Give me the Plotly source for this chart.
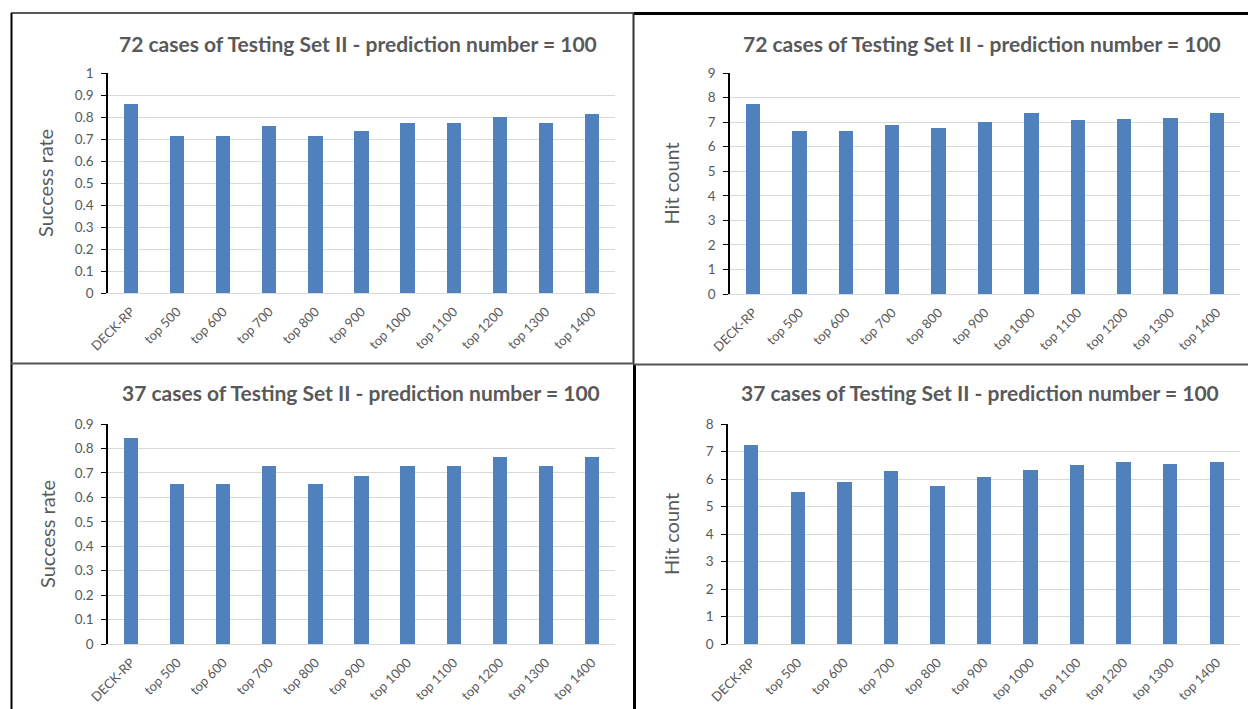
import plotly.graph_objects as go

W, H = 1248, 709

categories = ["DECK-RP", "top 500", "top 600", "top 700", "top 800", "top 900",
              "top 1000", "top 1100", "top 1200", "top 1300", "top 1400"]

rate_72 = [0.858, 0.714, 0.714, 0.758, 0.714, 0.736, 0.775, 0.775, 0.798, 0.775, 0.813]
hits_72 = [7.75, 6.62, 6.62, 6.87, 6.77, 7.02, 7.36, 7.07, 7.13, 7.17, 7.36]
rate_37 = [0.843, 0.653, 0.653, 0.727, 0.653, 0.688, 0.727, 0.727, 0.767, 0.727, 0.767]
hits_37 = [7.25, 5.52, 5.89, 6.28, 5.75, 6.07, 6.33, 6.50, 6.63, 6.54, 6.63]

title_72 = "72 cases of Testing Set II - prediction number = 100"
title_37 = "37 cases of Testing Set II - prediction number = 100"

BAR = "#4F81BD"
GRID = "#D9D9D9"
TXT = "#595959"
FONT = "Lato"


def px(x):
    return x / W


def py(y):
    return 1 - y / H


panels = [
    # values, y max, dtick, x extent (px), y extent (px top, bottom), y title, title, title centre, y-title x
    (rate_72, 1.0, 0.1, (108, 615), (73, 293), "Success rate", title_72, (358, 43), 45),
    (hits_72, 9, 1, (730, 1240), (73, 294), "Hit count", title_72, (982, 43), 671),
    (rate_37, 0.9, 0.1, (108, 615), (424, 644), "Success rate", title_37, (361, 392), 47),
    (hits_37, 8, 1, (728, 1240), (424, 644), "Hit count", title_37, (980, 392), 671),
]

fig = go.Figure()
layout = {}
annotations = []

for i, (vals, ymax, dt, xd, yd, ytitle, title, tpos, ytx) in enumerate(panels, start=1):
    sfx = "" if i == 1 else str(i)
    fig.add_trace(go.Bar(
        x=categories, y=vals, width=0.31,
        marker=dict(color=BAR, line=dict(width=0)),
        xaxis="x" + sfx, yaxis="y" + sfx, showlegend=False,
    ))
    layout["xaxis" + sfx] = dict(
        domain=[px(xd[0]), px(xd[1])], anchor="y" + sfx, automargin=False,
        tickangle=-45, tickfont=dict(family=FONT, size=13, color=TXT),
        ticklabelstandoff=5,
        showgrid=False, showline=True, linecolor=GRID, linewidth=1,
        ticks="", fixedrange=True,
    )
    layout["yaxis" + sfx] = dict(
        domain=[py(yd[1]), py(yd[0])], anchor="x" + sfx, automargin=False,
        range=[0, ymax], dtick=dt, tick0=0,
        showgrid=True, gridcolor=GRID, gridwidth=1, zeroline=False,
        showline=True, linecolor="#000000", linewidth=1.5,
        ticks="outside", ticklen=5, tickcolor="#000000", tickwidth=1,
        ticklabelstandoff=5,
        tickfont=dict(family=FONT, size=13.5, color=TXT),
        fixedrange=True,
    )
    annotations.append(dict(
        text="<b>" + title + "</b>", x=px(tpos[0]), y=py(tpos[1]),
        xref="paper", yref="paper", xanchor="center", yanchor="middle",
        showarrow=False, font=dict(family=FONT, size=21, color=TXT),
    ))
    annotations.append(dict(
        text=ytitle, x=px(ytx), y=py((yd[0] + yd[1]) / 2),
        xref="paper", yref="paper", xanchor="center", yanchor="middle",
        textangle=-90, showarrow=False, font=dict(family=FONT, size=20, color=TXT),
    ))


def hline(y, x0, x1, color, width):
    return dict(type="line", xref="paper", yref="paper", x0=px(x0), x1=px(x1),
                y0=py(y), y1=py(y), line=dict(color=color, width=width))


def vline(x, y0, y1, color, width):
    return dict(type="line", xref="paper", yref="paper", x0=px(x), x1=px(x),
                y0=py(y0), y1=py(y1), line=dict(color=color, width=width))


shapes = [
    vline(11.5, 13, 709, "#000000", 2),
    hline(13, 11, 634, "#222222", 1.5),
    hline(13.5, 634, 1248, "#000000", 3),
    vline(633.5, 13, 364, "#333333", 2),
    vline(634.5, 364, 709, "#000000", 3),
    hline(363.5, 11, 634, "#555555", 2),
    hline(364.5, 634, 1248, "#555555", 2),
]

fig.update_layout(
    width=W, height=H,
    margin=dict(l=0, r=0, t=0, b=0, pad=0),
    paper_bgcolor="white", plot_bgcolor="white",
    bargap=0, annotations=annotations, shapes=shapes,
    showlegend=False,
    **layout,
)

fig.write_html("out.html", config={"displayModeBar": False})
